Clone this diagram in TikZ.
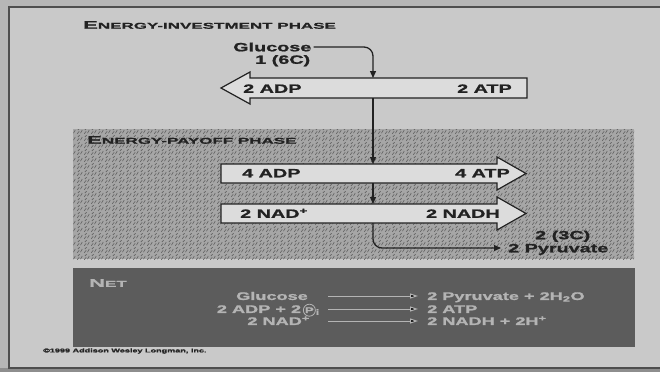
\documentclass[tikz,border=0pt]{standalone}
\usepackage{fontspec}
\setmainfont{Liberation Sans Bold}[FakeStretch=1.65, FakeBold=1.4]
\newfontfamily\ttlfont{Liberation Sans Bold}[FakeStretch=2.0, FakeBold=1.2]
\usetikzlibrary{patterns,arrows.meta}
\definecolor{outer}{HTML}{B6B6B6}
\definecolor{table}{HTML}{8E8E8E}
\definecolor{page}{HTML}{C9C9C9}
\definecolor{payoff}{HTML}{A6A6A6}
\definecolor{netbg}{HTML}{5C5C5C}
\definecolor{ink}{HTML}{222222}
\definecolor{arrowfill}{HTML}{DCDCDC}
\definecolor{nettext}{HTML}{B4B4B4}
\pgfdeclarepatternformonly{grain}{\pgfqpoint{0pt}{0pt}}{\pgfqpoint{7pt}{7pt}}{\pgfqpoint{7pt}{7pt}}{%
  \pgfsetlinewidth{0.7pt}
  \pgfpathmoveto{\pgfqpoint{0pt}{0pt}}\pgfpathlineto{\pgfqpoint{2.5pt}{3pt}}
  \pgfpathmoveto{\pgfqpoint{4pt}{1pt}}\pgfpathlineto{\pgfqpoint{6pt}{4.5pt}}
  \pgfpathmoveto{\pgfqpoint{1pt}{4.5pt}}\pgfpathlineto{\pgfqpoint{3pt}{6.5pt}}
  \pgfusepath{stroke}}
\begin{document}
\begin{tikzpicture}[x=1pt,y=-1pt,
  lbl/.style={font=\fontsize{12}{12}\selectfont, text=ink, inner sep=0pt, text height=8.6pt, text depth=0pt},
  ttlstyle/.style={font=\ttlfont, text=ink, inner sep=0pt, anchor=west},
  netlbl/.style={font=\fontsize{11}{11}\selectfont, text=nettext, inner sep=0pt, text height=7.9pt, text depth=0pt},
  bigarrow/.style={draw=ink, line width=1.2pt, fill=arrowfill, line join=miter},
  conn/.style={draw=ink, line width=1.3pt, -{Triangle[length=7pt,width=6pt]}},
  netconn/.style={draw=nettext, line width=1pt, -{Triangle[length=8pt,width=5pt]}},
]
\useasboundingbox (0,0) rectangle (660,372);
% page
\fill[outer] (0,0) rectangle (660,372);
\fill[table] (0,368) rectangle (660,372);
\fill[page] (9,7) rectangle (660,368);
\draw[ink!80, line width=1.2pt] (660,7) -- (9,7) -- (9,368) -- (660,368);

% payoff region
\fill[payoff] (73,129) rectangle (634,259);
\fill[pattern=grain, pattern color=ink!70] (73,129) rectangle (634,259);
% net region
\fill[netbg] (73,268) rectangle (635,347);

% titles
\node[ttlstyle] (tinv) at (83,25) {{\fontsize{11}{11}\selectfont E}{\fontsize{8.5}{8.5}\selectfont NERGY-INVESTMENT PHASE}};
\node[ttlstyle] (tpay) at (87,140) {{\fontsize{11}{11}\selectfont E}{\fontsize{8.5}{8.5}\selectfont NERGY-PAYOFF PHASE}};
\node[ttlstyle, text=nettext] (tnet) at (89,283) {{\fontsize{11}{11}\selectfont N}{\fontsize{8.5}{8.5}\selectfont ET}};

% big arrows
\draw[bigarrow] (527,78) -- (250,78) -- (250,72) -- (221,88) -- (250,104) -- (250,98) -- (527,98) -- cycle;
\draw[bigarrow] (221,164) -- (497,164) -- (497,157) -- (526,173.5) -- (497,190) -- (497,183) -- (221,183) -- cycle;
\draw[bigarrow] (221,204) -- (497,204) -- (497,197) -- (526,213.5) -- (497,230) -- (497,223) -- (221,223) -- cycle;

\coordinate (a1top) at (373,78);
\coordinate (a1bot) at (373,98);
\coordinate (a2top) at (373,164);
\coordinate (a2bot) at (373,183);
\coordinate (a3top) at (373,204);
\coordinate (a3bot) at (373,223);

% labels
\node[lbl, anchor=west] (gluc) at (233,47) {Glucose};
\node[lbl, anchor=west] (gsix) at (255,59.5) {1 (6C)};
\node[lbl, anchor=west] (adp2) at (243,88.5) {2 ADP};
\node[lbl, anchor=east] (atp2) at (512,88.5) {2 ATP};
\node[lbl, anchor=west] (adp4) at (242,173) {4 ADP};
\node[lbl, anchor=east] (atp4) at (510,173) {4 ATP};
\node[lbl, anchor=west] (nad) at (240,213.5) {2 NAD\textsuperscript{+}};
\node[lbl, anchor=east] (nadh) at (500,213.5) {2 NADH};
\node[lbl, anchor=west] (three) at (535,235) {2 (3C)};
\node[lbl, anchor=west] (pyr) at (508,248) {2 Pyruvate};

% connectors
\draw[conn, rounded corners=9pt] ([xshift=2pt]gluc.east) -| (a1top);
\draw[conn] (a1bot) -- (a2top);
\draw[conn] (a2bot) -- (a3top);
\draw[conn, rounded corners=9pt] (a3bot) |- ([xshift=-7pt]pyr.west);

% net equations
\node[netlbl, anchor=east] (nglu) at (308,296) {Glucose};
\node[netlbl, anchor=east] (nadp) at (320,309) {2 ADP + 2\,{\tikz[baseline=(pc.base)]\node[circle, draw=nettext, line width=0.8pt, inner sep=0.6pt, text=nettext, font=\fontsize{8}{8}\selectfont] (pc) {P};}\textsubscript{i}};
\node[netlbl, anchor=east] (nnad) at (310,321) {2 NAD\textsuperscript{+}};
\node[netlbl, anchor=west] (npyr) at (427,296) {2 Pyruvate + 2H\textsubscript{2}O};
\node[netlbl, anchor=west] (natp) at (427,309) {2 ATP};
\node[netlbl, anchor=west] (nnadh) at (427,321) {2 NADH + 2H\textsuperscript{+}};
\coordinate (s1) at (328,296);
\coordinate (s2) at (328,309);
\coordinate (s3) at (328,321);
\draw[netconn] (s1) -- ([xshift=-9pt]npyr.west);
\draw[netconn] (s2) -- ([xshift=-9pt]natp.west);
\draw[netconn] (s3) -- ([xshift=-9pt]nnadh.west);

% copyright
\node[font=\fontsize{5.5}{5.5}\selectfont, text=ink, inner sep=0pt, anchor=west] (copy) at (43,351) {\textcopyright1999 Addison Wesley Longman, Inc.};
\end{tikzpicture}
\end{document}
